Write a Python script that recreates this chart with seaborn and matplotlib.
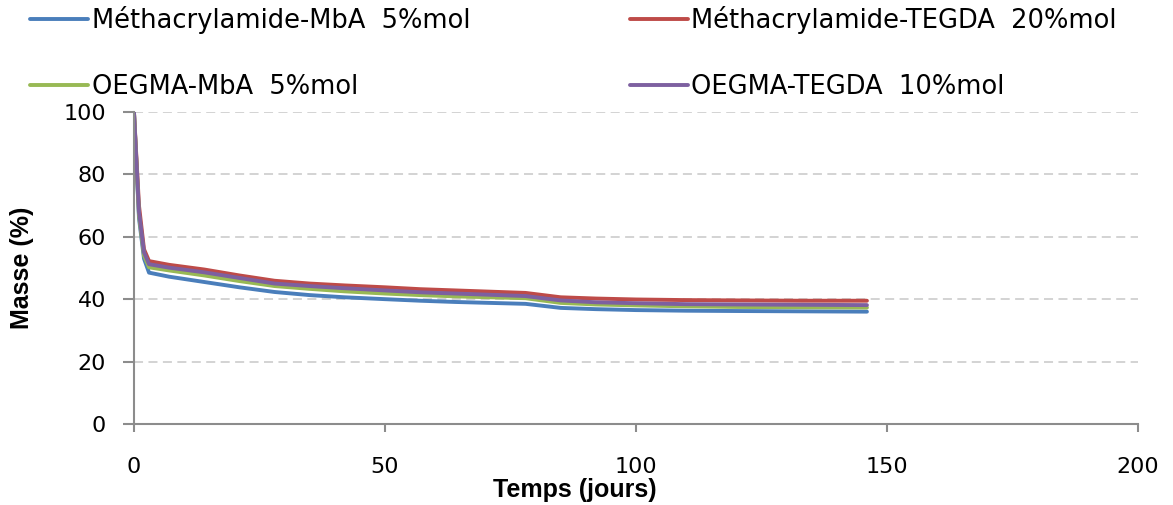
import matplotlib
matplotlib.use("Agg")
import matplotlib.pyplot as plt
import seaborn as sns
import pandas as pd

# Données
days = [0, 1, 2, 3, 7, 14, 21, 28, 35, 42, 50, 57, 64, 71, 78, 85, 92, 100, 110, 120, 133, 146]
meth_mba = [100, 66, 53, 48.5, 47.2, 45.5, 43.8, 42.3, 41.3, 40.6, 40.0, 39.5, 39.1, 38.8, 38.5,
            37.2, 36.8, 36.5, 36.3, 36.2, 36.1, 36.0]
meth_tegda = [100, 70, 56, 52.2, 51.0, 49.5, 47.6, 45.9, 45.0, 44.4, 43.8, 43.2, 42.8, 42.4, 42.0,
              40.6, 40.2, 39.9, 39.7, 39.6, 39.5, 39.5]
oegma_mba = [100, 67, 54, 50.2, 49.2, 47.6, 45.8, 44.2, 43.3, 42.5, 41.8, 41.3, 40.9, 40.6, 40.3,
             38.8, 38.3, 38.0, 37.7, 37.5, 37.4, 37.3]
oegma_tegda = [100, 68, 55, 51.2, 50.1, 48.6, 46.8, 45.0, 44.2, 43.5, 42.8, 42.2, 41.8, 41.4, 41.0,
               39.6, 39.0, 38.7, 38.4, 38.3, 38.2, 38.1]

labels = ["Méthacrylamide-MbA  5%mol", "Méthacrylamide-TEGDA  20%mol",
          "OEGMA-MbA  5%mol", "OEGMA-TEGDA  10%mol"]
colors = ["#4A7EBB", "#BE4B48", "#98B954", "#7D60A0"]

df = pd.concat([
    pd.DataFrame({"jours": days, "masse": vals, "serie": lab})
    for vals, lab in zip([meth_mba, meth_tegda, oegma_mba, oegma_tegda], labels)
])

sns.set_style("white")
plt.rcParams["font.family"] = ["DejaVu Sans"]
plt.rcParams["text.color"] = "black"

fig = plt.figure(figsize=(11.73, 5.05), dpi=100)
ax = fig.add_axes([0.1142, 0.1604, 0.856, 0.618])

sns.lineplot(data=df, x="jours", y="masse", hue="serie", hue_order=labels,
             palette=colors, linewidth=2.8, ax=ax, legend=False, sort=False)

ax.set_xlim(0, 200)
ax.set_ylim(0, 100)
ax.set_xticks([0, 50, 100, 150, 200])
ax.set_yticks([0, 20, 40, 60, 80, 100])
ax.yaxis.grid(True, color="#D0D0D0", linestyle=(0, (5, 3)), linewidth=1.3)
ax.xaxis.grid(False)
ax.set_axisbelow(True)

for s in ["top", "right"]:
    ax.spines[s].set_visible(False)
for s in ["left", "bottom"]:
    ax.spines[s].set_color("#8C8C8C")
    ax.spines[s].set_linewidth(1.5)

ax.tick_params(axis="x", direction="out", length=6, width=1.5, color="#8C8C8C",
               pad=18, labelsize=16, labelcolor="black")
ax.tick_params(axis="y", direction="out", length=8, width=1.5, color="#8C8C8C",
               pad=12, labelsize=16, labelcolor="black")
ax.tick_params(bottom=True, left=True)

ax.set_xlabel("")
ax.set_ylabel("")
fig.text(0.49, 0.005, "Temps (jours)", ha="center", va="bottom", fontsize=18,
         fontweight="bold", family=["Liberation Sans Narrow", "Liberation Sans"])
fig.text(0.019, 0.47, "Masse (%)", ha="center", va="center", rotation=90, fontsize=18,
         fontweight="bold", family=["Liberation Sans Narrow", "Liberation Sans"])

# Légende : deux colonnes en haut
order = [0, 2, 1, 3]
handles = [plt.Line2D([], [], color=colors[i], linewidth=2.8) for i in order]
fig.legend(handles, [labels[i] for i in order], ncol=2, loc="upper left",
           bbox_to_anchor=(0.017, 1.008), frameon=False, fontsize=18.5,
           handlelength=2.25, handletextpad=0.15, columnspacing=6.2,
           labelspacing=1.55, borderaxespad=0.0)

fig.savefig("out.png", dpi=100)
